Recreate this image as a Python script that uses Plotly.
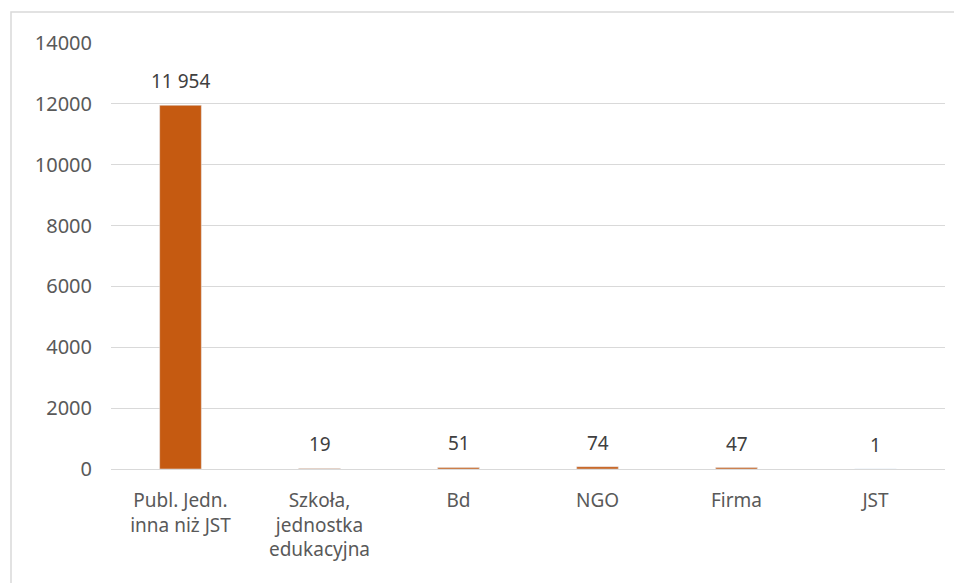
import plotly.graph_objects as go

categories = ["Publ. Jedn.<br>inna niż JST", "Szkoła,<br>jednostka<br>edukacyjna", "Bd", "NGO", "Firma", "JST"]
values = [11954, 19, 51, 74, 47, 1]
labels = ["11 954", "19", "51", "74", "47", "1"]
y_ticks = [0, 2000, 4000, 6000, 8000, 10000, 12000, 14000]

FONT = "Noto Sans"
OFF = 8  # page body offset
W, H = 962 - OFF, 583 - OFF
L, R, T, B = 111 - OFF, 17, 43 - OFF, 114
pw, ph = W - L - R, H - T - B

fig = go.Figure()
fig.add_trace(go.Bar(x=categories, y=values, marker_color="#C55A11", width=0.3,
                     hoverinfo="skip"))
for c, v, t in zip(categories, values, labels):
    fig.add_annotation(x=c, y=v, text=t, showarrow=False, yshift=24,
                       font=dict(family=FONT, size=19, color="#404040"))

fig.add_shape(type="rect", xref="paper", yref="paper",
              x0=(11 - OFF - L) / pw, x1=(955 - OFF - L) / pw,
              y0=(H - B - 600) / ph, y1=(H - B - (12 - OFF)) / ph,
              line=dict(color="#D9D9D9", width=1.5), fillcolor="rgba(0,0,0,0)", layer="below")

fig.update_layout(
    width=W, height=H, margin=dict(l=L, r=R, t=T, b=B, autoexpand=False),
    plot_bgcolor="white", paper_bgcolor="white", showlegend=False,
    font=dict(family=FONT, size=19, color="#595959"),
)
fig.update_yaxes(range=[0, 14000], tickvals=y_ticks, ticktext=[str(v) for v in y_ticks],
                 showgrid=True, gridcolor="#D9D9D9", gridwidth=1.3, zeroline=False,
                 showline=False, ticks="", ticklabelstandoff=18,
                 tickfont=dict(family=FONT, size=20, color="#595959"))
fig.update_xaxes(showgrid=False, showline=True, linecolor="#D9D9D9", linewidth=1.3,
                 ticks="", ticklabelstandoff=14,
                 tickfont=dict(family=FONT, size=19, color="#595959"))
fig.write_html("out.html")
